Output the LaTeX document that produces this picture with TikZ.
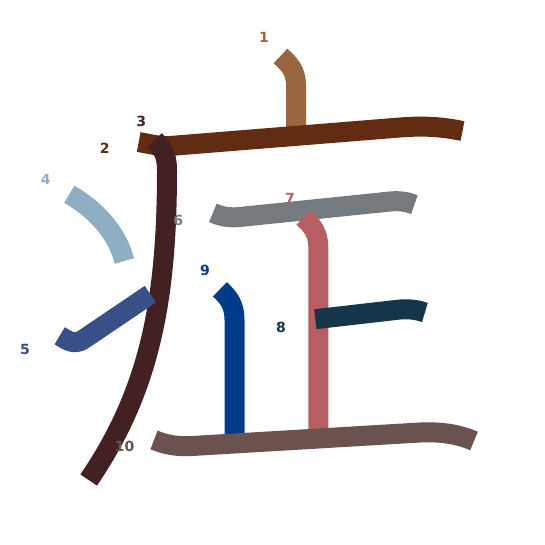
\documentclass[tikz,border=0pt]{standalone}
\usepackage{fontspec}
\newfontfamily\numfont{DejaVu Sans}
\definecolor{cA}{RGB}{153,102,64}
\definecolor{cB}{RGB}{97,44,18}
\definecolor{cC}{RGB}{67,32,33}
\definecolor{cD}{RGB}{142,174,196}
\definecolor{cE}{RGB}{57,79,136}
\definecolor{cF}{RGB}{117,122,126}
\definecolor{cG}{RGB}{182,94,98}
\definecolor{cH}{RGB}{20,53,74}
\definecolor{cI}{RGB}{0,58,138}
\definecolor{cJ}{RGB}{107,82,79}
\tikzset{
  kstroke/.style={line width=20pt, line cap=butt, line join=round},
  klabel/.style={font=\numfont\bfseries\fontsize{14}{15}\selectfont, inner sep=0pt, anchor=center}
}
\begin{document}
\begin{tikzpicture}[x=1pt,y=-1pt]
\useasboundingbox[fill=white] (0,0) rectangle (545,545);
% strokes
\draw[kstroke, cA] (280.5,56) .. controls (289,64) and (296,70) .. (296,86) -- (296,132);
\draw[kstroke, cB] (138.7,142) .. controls (150,144) and (158,146.5) .. (170,146) -- (400,127.5) .. controls (425,125.5) and (443,127) .. (462.5,131);
\draw[kstroke, cC] (154.5,140) .. controls (162,148) and (167,154) .. (167,170) .. controls (167,300) and (150,390) .. (88.7,480);
\draw[kstroke, cD] (69.3,194.3) .. controls (95,209) and (117,232) .. (124.4,261);
\draw[kstroke, cE] (59.7,335.8) .. controls (67,340) and (74,346) .. (84,339) -- (150.3,294.2);
\draw[kstroke, cF] (212.9,212.8) .. controls (221,216.4) and (228,218) .. (240,217) -- (390,201.5) .. controls (400,200.5) and (408,202) .. (414.4,204.7);
\draw[kstroke, cG] (303.5,217.5) .. controls (311,225) and (318.3,231) .. (318.3,248) -- (318.3,432);
\draw[kstroke, cH] (315.3,319.2) -- (400,309.5) .. controls (410,308.8) and (418,310) .. (424.9,312.5);
\draw[kstroke, cI] (219.9,289.3) .. controls (228,297) and (234.5,304) .. (234.5,320) -- (234.5,440);
\draw[kstroke, cJ] (154,440) .. controls (164,444) and (175,447) .. (192,446) -- (420,432.5) .. controls (440,431.5) and (458,434) .. (474,441);
% stroke numbers
\node[klabel, text=cA] (n1) at (264,37) {1};
\node[klabel, text=cB] (n2) at (104.7,148.5) {2};
\node[klabel, text=cC] (n3) at (141.3,121) {3};
\node[klabel, text=cD] (n4) at (45.7,179) {4};
\node[klabel, text=cE] (n5) at (25,349.5) {5};
\node[klabel, text=cF] (n6) at (178.3,220.6) {6};
\node[klabel, text=cG] (n7) at (290,198) {7};
\node[klabel, text=cH] (n8) at (281,327.3) {8};
\node[klabel, text=cI] (n9) at (205,270) {9};
\node[klabel, text=cJ] (n10) at (124.5,446) {10};
\end{tikzpicture}
\end{document}
